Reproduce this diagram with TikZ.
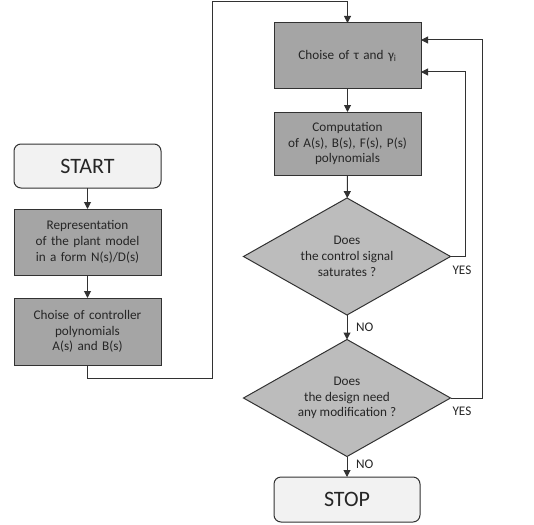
\documentclass[tikz,border=0pt]{standalone}
\usepackage{fontspec}
\setmainfont{Carlito}
\usepackage{xcolor}
\usetikzlibrary{arrows.meta,positioning,shapes.geometric}
\definecolor{boxgray}{RGB}{165,165,165}
\definecolor{diagray}{RGB}{188,188,188}
\definecolor{termgray}{RGB}{242,242,242}
\definecolor{edgegray}{RGB}{50,50,50}
\newcommand{\bodyf}{\fontsize{13.2}{15.7}\selectfont}
\newcommand{\termf}{\fontsize{22}{24}\selectfont}

\begin{document}
\begin{tikzpicture}[x=1pt, y=-1pt, every node/.style={inner sep=0pt, outer sep=0pt, font=\bodyf, text=black!85},
  term/.style={draw=edgegray, fill=termgray, rounded corners=7pt, minimum width=147pt, minimum height=44pt, font=\termf, line width=1pt},
  proc/.style={draw=edgegray, fill=boxgray, minimum width=147pt, text width=144pt, align=center, line width=1pt},
  test/.style={draw=edgegray, fill=diagray, diamond, aspect=1.77, minimum width=207pt, minimum height=117pt, align=center, line width=1pt},
  arr/.style={draw=edgegray, line width=1pt, -{Triangle[length=7pt,width=7pt]}}]
\useasboundingbox (0,0) rectangle (534,524);
% ---- left column
\node[term] (start) at (87.5,166) {START};
\node[proc, minimum height=66pt] (repr) at (87.5,242) {Representation\\of the plant model\\in a form N(s)/D(s)};
\node[proc, minimum height=67pt] (ctrl) at (87.5,331.5) {Choise of controller\\polynomials\\A(s) and B(s)};
% ---- right column
\node[proc, minimum height=66pt] (choice) at (347.5,56) {Choise of τ and γ\textsubscript{i}};
\node[proc, minimum height=63pt] (comp) at (347.5,143.5) {Computation\\of A(s), B(s), F(s), P(s)\\polynomials};
\node[test] (sat) at (347,256.5) {Does\\the control signal\\saturates ?};
\node[test] (modif) at (347,398) {Does\\the design need\\any modification ?};
\node[term, minimum width=146pt, minimum height=45pt] (stop) at (347,499.5) {STOP};
% ---- corners of the long link
\coordinate (loopL) at (212,378);
\coordinate (loopT) at (212,2);
% ---- connectors
\draw[arr] (start) -- (repr);
\draw[arr] (repr) -- (ctrl);
\draw[arr] (ctrl.south) |- (loopL) -- (loopT) -| (choice.north);
\draw[arr] (choice) -- (comp);
\draw[arr] (comp) -- (sat);
\draw[arr] (sat) -- node[anchor=west, xshift=9pt] (no1) {NO} (modif);
\draw[arr] (modif) -- node[anchor=west, xshift=9pt, yshift=2pt] (no2) {NO} (stop);
\draw[arr] (sat.east) -- ++(15,0) |- ([yshift=-16pt]choice.east);
\draw[arr] (modif.east) -- ++(32,0) |- ([yshift=16pt]choice.east);
\node[anchor=north west] (yes1) at ([xshift=2pt, yshift=-9pt]sat.east) {YES};
\node[anchor=north west] (yes2) at ([xshift=2pt, yshift=-9pt]modif.east) {YES};
\end{tikzpicture}
\end{document}
